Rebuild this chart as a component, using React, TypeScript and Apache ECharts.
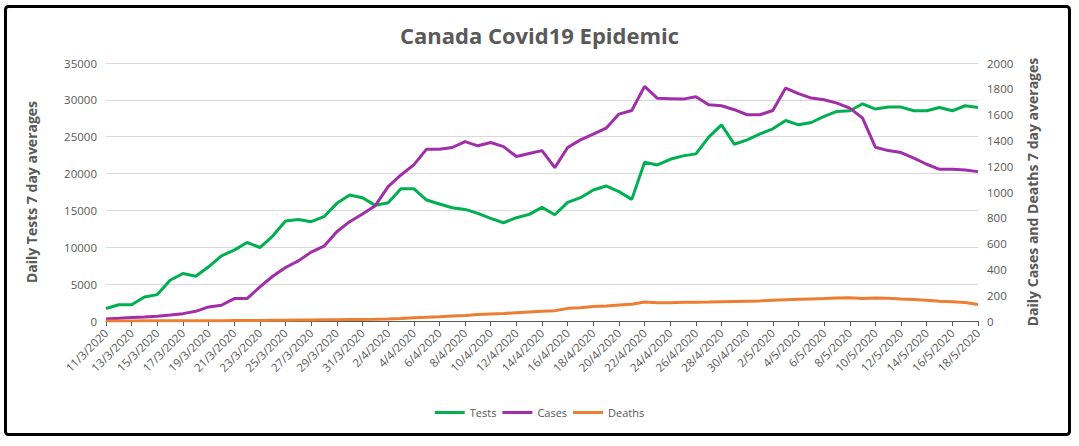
import React, { useEffect, useRef } from "react";
import * as echarts from "echarts";

const dates = [
  "11/3/2020","12/3/2020","13/3/2020","14/3/2020","15/3/2020","16/3/2020","17/3/2020","18/3/2020","19/3/2020","20/3/2020",
  "21/3/2020","22/3/2020","23/3/2020","24/3/2020","25/3/2020","26/3/2020","27/3/2020","28/3/2020","29/3/2020","30/3/2020",
  "31/3/2020","1/4/2020","2/4/2020","3/4/2020","4/4/2020","5/4/2020","6/4/2020","7/4/2020","8/4/2020","9/4/2020",
  "10/4/2020","11/4/2020","12/4/2020","13/4/2020","14/4/2020","15/4/2020","16/4/2020","17/4/2020","18/4/2020","19/4/2020",
  "20/4/2020","21/4/2020","22/4/2020","23/4/2020","24/4/2020","25/4/2020","26/4/2020","27/4/2020","28/4/2020","29/4/2020",
  "30/4/2020","1/5/2020","2/5/2020","3/5/2020","4/5/2020","5/5/2020","6/5/2020","7/5/2020","8/5/2020","9/5/2020",
  "10/5/2020","11/5/2020","12/5/2020","13/5/2020","14/5/2020","15/5/2020","16/5/2020","17/5/2020","18/5/2020"
];

const tests = [
  1700, 2200, 2200, 3260, 3580, 5530, 6440, 6080, 7350, 8840,
  9610, 10650, 9970, 11520, 13560, 13780, 13470, 14150, 15960, 17090,
  16730, 15690, 16050, 17950, 17950, 16410, 15870, 15370, 15140, 14600,
  13920, 13330, 14010, 14460, 15420, 14420, 16100, 16730, 17770, 18320,
  17550, 16500, 21540, 21170, 21940, 22400, 22670, 24940, 26610, 23980,
  24570, 25390, 26070, 27200, 26610, 26930, 27750, 28430, 28520, 29470,
  28750, 29020, 29020, 28520, 28520, 28970, 28520, 29200, 28970
];

const cases = [
  16, 21, 28, 31, 36, 46, 57, 75, 109, 122,
  174, 174, 264, 347, 415, 466, 534, 580, 692, 770,
  829, 894, 1042, 1132, 1210, 1332, 1332, 1345, 1391, 1358,
  1384, 1352, 1275, 1298, 1321, 1189, 1345, 1404, 1448, 1495,
  1604, 1632, 1819, 1726, 1723, 1720, 1739, 1676, 1669, 1638,
  1599, 1599, 1632, 1806, 1762, 1728, 1715, 1689, 1650, 1573,
  1347, 1321, 1306, 1262, 1215, 1176, 1176, 1171, 1158
];

const deaths = [
  0, 0, 0, 1, 1, 1, 1, 1, 2, 2,
  3, 3, 4, 5, 6, 7, 8, 9, 10, 11,
  12, 13, 16, 20, 26, 29, 33, 38, 43, 50,
  55, 58, 64, 70, 76, 80, 98, 103, 113, 117,
  124, 130, 148, 142, 142, 146, 145, 147, 150, 152,
  154, 156, 160, 164, 168, 171, 174, 178, 180, 174,
  178, 176, 171, 167, 161, 154, 150, 143, 128
];

const FONT = "'Open Sans', 'Noto Sans', sans-serif";
const GRAY = "#595959";

export default function App() {
  const ref = useRef<HTMLDivElement>(null);
  useEffect(() => {
    if (!ref.current) return;
    const chart = echarts.init(ref.current, null, { renderer: "svg" });
    chart.setOption({
      animation: false,
      backgroundColor: "#ffffff",
      textStyle: { fontFamily: FONT },
      title: {
        text: "Canada Covid19 Epidemic",
        left: "center",
        top: 19,
        textStyle: { fontFamily: FONT, fontSize: 22, fontWeight: "bold", color: GRAY },
      },
      graphic: [
        {
          type: "rect",
          shape: { x: 5.5, y: 6.5, width: 1064, height: 428, r: 3 },
          style: { fill: "none", stroke: "#000", lineWidth: 3 },
          silent: true,
        },
      ],
      legend: {
        bottom: 23,
        left: "center",
        icon: "rect",
        itemWidth: 30,
        itemHeight: 3,
        itemGap: 6,
        textStyle: { fontFamily: FONT, fontSize: 11, color: GRAY },
        data: ["Tests", "Cases", "Deaths"],
      },
      grid: { left: 106, right: 101, top: 63, bottom: 125 },
      xAxis: {
        type: "category",
        data: dates,
        boundaryGap: false,
        axisLine: { lineStyle: { color: GRAY, width: 1 } },
        axisTick: { show: true, interval: 1, length: 5, lineStyle: { color: GRAY } },
        axisLabel: {
          interval: 1,
          rotate: 45,
          fontSize: 11.5,
          color: GRAY,
          fontFamily: FONT,
          margin: 10,
        },
        splitLine: { show: false },
      },
      yAxis: [
        {
          type: "value",
          min: 0,
          max: 35000,
          interval: 5000,
          name: "Daily Tests 7 day averages",
          nameLocation: "middle",
          nameGap: 68,
          nameTextStyle: { fontFamily: FONT, fontSize: 14, fontWeight: "bold", color: GRAY },
          axisLine: { show: false },
          axisTick: { show: false },
          axisLabel: {
            fontSize: 11.5,
            color: GRAY,
            fontFamily: FONT,
            margin: 9,
            formatter: (v: number) => String(v),
          },
          splitLine: { lineStyle: { color: "#d9d9d9", width: 1 } },
        },
        {
          type: "value",
          min: 0,
          max: 2000,
          interval: 200,
          name: "Daily Cases and Deaths 7 day averages",
          nameLocation: "middle",
          nameGap: 47,
          nameTextStyle: { fontFamily: FONT, fontSize: 14, fontWeight: "bold", color: GRAY },
          axisLine: { show: false },
          axisTick: { show: false },
          axisLabel: {
            fontSize: 11.5,
            color: GRAY,
            fontFamily: FONT,
            margin: 9,
            formatter: (v: number) => String(v),
          },
          splitLine: { show: false },
        },
      ],
      series: [
        {
          name: "Tests",
          type: "line",
          yAxisIndex: 0,
          data: tests,
          showSymbol: false,
          symbol: "none",
          lineStyle: { color: "#00b050", width: 3 },
          itemStyle: { color: "#00b050" },
        },
        {
          name: "Cases",
          type: "line",
          yAxisIndex: 1,
          data: cases,
          showSymbol: false,
          symbol: "none",
          lineStyle: { color: "#a12ea8", width: 3 },
          itemStyle: { color: "#a12ea8" },
        },
        {
          name: "Deaths",
          type: "line",
          yAxisIndex: 1,
          data: deaths,
          showSymbol: false,
          symbol: "none",
          lineStyle: { color: "#ed7d31", width: 3 },
          itemStyle: { color: "#ed7d31" },
        },
      ],
    });
    return () => chart.dispose();
  }, []);
  return (
    <div
      ref={ref}
      style={{ position: "absolute", left: 0, top: 0, width: 1079, height: 446 }}
    />
  );
}
